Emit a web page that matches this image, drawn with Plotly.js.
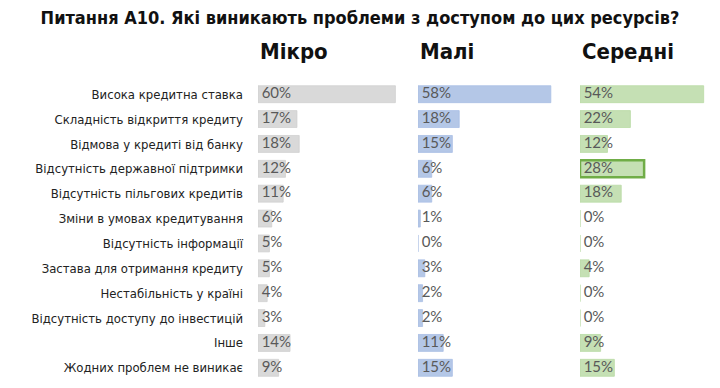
<!DOCTYPE html>
<html><head><meta charset="utf-8">
<script src="https://cdn.plot.ly/plotly-3.0.1.min.js"></script>
<style>html,body{margin:0;padding:0;background:#fff}#c{width:720px;height:388px}</style>
</head><body><div id="c"></div>
<script>
const categories = ["Висока кредитна ставка","Складність відкриття кредиту","Відмова у кредиті від банку","Відсутність державної підтримки","Відсутність пільгових кредитів","Зміни в умовах кредитування","Відсутність інформації","Застава для отримання кредиту","Нестабільність у країні","Відсутність доступу до інвестицій","Інше","Жодних проблем не виникає"];
const groups = ["Мікро","Малі","Середні"];
const micro = [60,17,18,12,11,6,5,5,4,3,14,9];
const mali = [58,18,15,6,6,1,0,3,2,2,11,15];
const seredni = [54,22,12,28,18,0,0,4,0,0,9,15];
const chartTitle = "Питання А10. Які виникають проблеми з доступом до цих ресурсів?";

const W = 720;
const pxPer = 2.29;
const starts = [258, 418, 580];
const ends = [410, 570, 718];
const fills = ["#d9d9d9", "#b4c7e7", "#c5e0b4"];
const edges = ["#d0d0d0", "#a9bfe4", "#b9dba5"];
const series = [micro, mali, seredni];
const traces = [];
const layout = {
  width: 720, height: 388,
  margin: {l: 0, r: 0, t: 79, b: 5},
  paper_bgcolor: "#fff", plot_bgcolor: "rgba(0,0,0,0)",
  showlegend: false,
  bargap: 0.32,
  title: {text: "<b>" + chartTitle + "</b>", x: 0.5, xanchor: "center", y: 1 - 18/388, yanchor: "middle",
          font: {family: "DejaVu Sans Condensed", size: 18, color: "#111"}},
  yaxis: {type: "category", categoryorder: "array", categoryarray: categories, autorange: "reversed",
          showgrid: false, zeroline: false, showline: false, ticks: "", ticklabelstandoff: 14,
          tickfont: {family: "DejaVu Sans Condensed", size: 13, color: "#222"}},
  annotations: []
};
series.forEach((vals, i) => {
  const xa = i === 0 ? "x" : "x" + (i + 1);
  const key = i === 0 ? "xaxis" : "xaxis" + (i + 1);
  const lw = vals.map((v, j) => (i === 2 && j === 3) ? 2.5 : 0.8);
  const lc = vals.map((v, j) => (i === 2 && j === 3) ? "#70ad47" : edges[i]);
  traces.push({type: "bar", orientation: "h", x: vals, y: categories, xaxis: xa, yaxis: "y",
    marker: {color: fills[i], line: {width: lw, color: lc}}, hoverinfo: "skip"});
  traces.push({type: "scatter", mode: "text", x: vals.map(() => 1.6), y: categories, xaxis: xa, yaxis: "y",
    text: vals.map(v => v + "%"), textposition: "middle right",
    textfont: {family: "Lato", size: 15, color: "#595959"}, hoverinfo: "skip", cliponaxis: false});
  layout[key] = {domain: [starts[i] / W, ends[i] / W], range: [0, (ends[i] - starts[i]) / pxPer],
    showgrid: false, zeroline: false, showticklabels: false, showline: false, ticks: "", fixedrange: true};
  layout.annotations.push({text: "<b>" + groups[i] + "</b>", xref: "paper", yref: "paper",
    x: starts[i] / W, xanchor: "left", y: 1 + (79 - 52) / 304, yanchor: "middle", showarrow: false,
    font: {family: "DejaVu Sans Condensed", size: 22, color: "#111"}});
});
Plotly.newPlot("c", traces, layout, {staticPlot: true});
</script></body></html>
